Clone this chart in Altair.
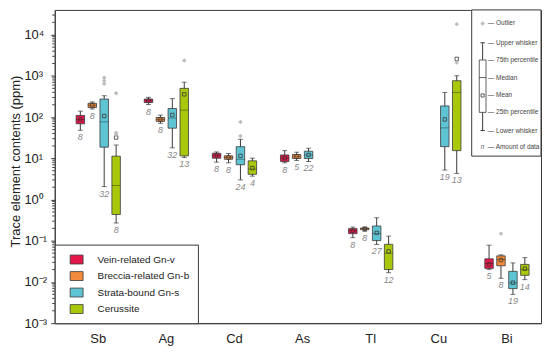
import json
import altair as alt
import pandas as pd

# ---------------- data ----------------
ELEMENTS = ["Sb", "Ag", "Cd", "As", "Tl", "Cu", "Bi"]
SERIES = ["Vein-related Gn-v", "Breccia-related Gn-b", "Strata-bound Gn-s", "Cerussite"]
COLORS = ["#E5174B", "#F28B3B", "#5EC4D3", "#A9C80C"]

# order of values follows ELEMENTS; None = no data
LOWER = {
    SERIES[0]: [48, 202, 8.1, 7.8, 0.119, None, 0.0202],
    SERIES[1]: [158, 71, 7.8, 8.9, 0.17, None, 0.0123],
    SERIES[2]: [2.06, 18, 3.0, 8.4, 0.081, 5.2, 0.005],
    SERIES[3]: [0.27, 10.5, 3.7, None, 0.0168, 4.3, 0.0114],
}
Q1 = {
    SERIES[0]: [69, 226, 10.1, 8.4, 0.149, None, 0.0214],
    SERIES[1]: [171, 79, 9.5, 9.9, 0.186, None, 0.0247],
    SERIES[2]: [18.7, 54, 7.0, 9.9, 0.101, 19.2, 0.0069],
    SERIES[3]: [0.435, 11.5, 4.1, None, 0.02, 15.4, 0.0145],
}
MEDIAN = {
    SERIES[0]: [88, 250, 11.7, 10.2, 0.174, None, 0.028],
    SERIES[1]: [195, 88, 10.5, 11.2, 0.195, None, 0.035],
    SERIES[2]: [77, 95, 9.5, 12.1, 0.15, 55, 0.0095],
    SERIES[3]: [2.2, 148, 5.5, None, 0.05, 398, 0.02],
}
Q3 = {
    SERIES[0]: [110, 275, 13.3, 12.1, 0.197, None, 0.0365],
    SERIES[1]: [217, 98, 11.5, 12.4, 0.204, None, 0.043],
    SERIES[2]: [275, 162, 19.2, 14.9, 0.228, 187, 0.0181],
    SERIES[3]: [11.3, 500, 8.7, None, 0.082, 766, 0.0267],
}
UPPER = {
    SERIES[0]: [140, 303, 14.3, 15.4, 0.215, None, 0.078],
    SERIES[1]: [234, 112, 13.1, 14.1, 0.215, None, 0.0455],
    SERIES[2]: [331, 282, 29, 17.6, 0.362, 398, 0.029],
    SERIES[3]: [21, 705, 10.1, None, 0.13, 1010, 0.039],
}
MEAN = {
    SERIES[0]: [88, 250, 11.7, 10.2, 0.174, None, 0.027],
    SERIES[1]: [195, 88, 10.5, 11.2, 0.195, None, 0.034],
    SERIES[2]: [106, 113, 11.5, 12.1, 0.155, 88, 0.0096],
    SERIES[3]: [32, 358, 5.8, None, 0.055, 2590, 0.021],
}
COUNT = {
    SERIES[0]: [8, 8, 8, 8, 8, None, 5],
    SERIES[1]: [8, 8, 8, 5, 8, None, 8],
    SERIES[2]: [32, 32, 24, 22, 27, 19, 19],
    SERIES[3]: [8, 13, 4, None, 12, 13, 14],
}
OUTLIERS = [
    ("Sb", SERIES[2], 900), ("Sb", SERIES[2], 760), ("Sb", SERIES[2], 650),
    ("Sb", SERIES[3], 380), ("Sb", SERIES[3], 42), ("Sb", SERIES[3], 38),
    ("Ag", SERIES[3], 2360),
    ("Cd", SERIES[2], 76), ("Cd", SERIES[2], 35),
    ("Cu", SERIES[3], 18100), ("Cu", SERIES[3], 2110),
    ("Bi", SERIES[1], 0.149),
]

TICK_VALUES = [1e-3, 1e-2, 1e-1, 1, 10, 100, 1e3, 1e4]
TICK_LABELS = ["10⁻³", "10⁻²", "10⁻¹", "10⁰", "10¹", "10²", "10³", "10⁴"]
MINOR_TICKS = [m * 10.0 ** k for k in range(-3, 5) for m in range(2, 10) if m * 10.0 ** k < 4e4]

KEY_LABELS = ["Upper whisker", "75th percentile", "Median", "Mean", "25th percentile", "Lower whisker"]

# ---------------- tables ----------------
rows = []
for s in SERIES:
    for i, e in enumerate(ELEMENTS):
        if Q1[s][i] is None:
            continue
        rows.append(dict(element=e, series=s, lw=LOWER[s][i], q1=Q1[s][i], med=MEDIAN[s][i],
                         q3=Q3[s][i], uw=UPPER[s][i], mean=MEAN[s][i], n=str(COUNT[s][i])))
df = pd.DataFrame(rows)
df_out = pd.DataFrame(OUTLIERS, columns=["element", "series", "value"])
df_minor = pd.DataFrame({"v": MINOR_TICKS})

# ---------------- scales / axes ----------------
FONT = "Liberation Sans"
DARK = "#3a3a3a"
W, H = 489, 315

yscale = alt.Scale(type="log", domain=[1e-3, 4e4], nice=False)
label_expr = json.dumps(TICK_LABELS, ensure_ascii=False) + "[round(log(datum.value)/LN10)+3]"
yaxis = alt.Axis(values=TICK_VALUES, labelExpr=label_expr, tickSize=4, tickColor=DARK,
                 labelAlign="left", labelPadding=27, labelFontSize=13, labelColor="#222",
                 title="Trace element contents (ppm)", titleFontSize=13, titleFontWeight="normal",
                 titleColor="#222", titleX=-32, titleY=152, titleAlign="center",
                 titleBaseline="bottom", titleAngle=270, grid=False, domainColor=DARK)
xscale = alt.Scale(domain=ELEMENTS, paddingInner=0, paddingOuter=0.0693, align=1)
xaxis = alt.Axis(title=None, ticks=False, labelAngle=0, labelFontSize=13, labelColor="#222",
                 labelPadding=9, domainColor=DARK)
xenc = alt.X("element:N", scale=xscale, axis=xaxis)
xoff = alt.XOffset("series:N", scale=alt.Scale(domain=SERIES, paddingInner=0.29, paddingOuter=1.0))

base = alt.Chart(df).encode(x=xenc, xOffset=xoff)

whisker = base.mark_rule(color=DARK, strokeWidth=1).encode(
    y=alt.Y("lw:Q", scale=yscale, axis=yaxis), y2="uw:Q")
cap_top = base.mark_tick(size=5, thickness=1, color=DARK).encode(
    y=alt.Y("uw:Q", scale=yscale, axis=yaxis))
cap_bot = base.mark_tick(size=5, thickness=1, color=DARK).encode(
    y=alt.Y("lw:Q", scale=yscale, axis=yaxis))
box = base.mark_bar(stroke=DARK, strokeWidth=0.8).encode(
    y=alt.Y("q1:Q", scale=yscale, axis=yaxis), y2="q3:Q",
    color=alt.Color("series:N", scale=alt.Scale(domain=SERIES, range=COLORS),
                    legend=alt.Legend(title=None, orient="bottom-left", offset=0,
                                      symbolType="M-1,-0.69L1,-0.69L1,0.69L-1,0.69Z",
                                      symbolSize=169, symbolStrokeColor=DARK, symbolStrokeWidth=0.8,
                                      symbolOffset=7, labelOffset=14, labelFontSize=10,
                                      labelColor="#222", padding=8, rowPadding=2.6,
                                      strokeColor=DARK, fillColor="white")))
median = base.mark_tick(size=8.5, thickness=1, color="black", opacity=0.35).encode(
    y=alt.Y("med:Q", scale=yscale, axis=yaxis))
mean = base.mark_point(shape="square", size=12, filled=False, color=DARK, strokeWidth=0.8,
                       opacity=1).encode(y=alt.Y("mean:Q", scale=yscale, axis=yaxis))
ntext = base.mark_text(fontSize=9, fontStyle="italic", color="#888", baseline="top", dy=3).encode(
    y=alt.Y("lw:Q", scale=yscale, axis=yaxis), text="n:N")
outl = alt.Chart(df_out).mark_point(shape="diamond", filled=True, color="#BBBBBB", size=20,
                                     opacity=1).encode(
    x=xenc, xOffset=xoff, y=alt.Y("value:Q", scale=yscale, axis=yaxis))
minor = alt.Chart(df_minor).mark_rule(color=DARK, strokeWidth=1).encode(
    y=alt.Y("v:Q", scale=yscale, axis=yaxis), x=alt.value(-2.5), x2=alt.value(0))

# ---------------- key (schematic legend, top right) ----------------
ONE = alt.Data(values=[{"k": 0}])
KX0, KY1 = 419.3, 147           # key frame
CX = 430.3                       # schematic centre
KEY_Y = [33, 50.3, 68, 86, 103, 121.3]
TX = 435.5
key_layers = [
    alt.Chart(ONE).mark_rect(fill="white", stroke=DARK, strokeWidth=1).encode(
        x=alt.value(KX0), x2=alt.value(W), y=alt.value(0), y2=alt.value(KY1)),
    alt.Chart(ONE).mark_point(shape="diamond", filled=True, color="#BBBBBB", size=20, opacity=1).encode(
        x=alt.value(CX), y=alt.value(13.6)),
    alt.Chart(ONE).mark_text(text="— Outlier", align="left", baseline="middle", fontSize=6.5,
                             color="#444", font=FONT).encode(x=alt.value(TX), y=alt.value(13.6)),
    alt.Chart(ONE).mark_rule(color=DARK, strokeWidth=1).encode(
        x=alt.value(CX), y=alt.value(KEY_Y[0]), y2=alt.value(KEY_Y[5])),
    alt.Chart(ONE).mark_rule(color=DARK, strokeWidth=1).encode(
        x=alt.value(CX - 2.2), x2=alt.value(CX + 2.2), y=alt.value(KEY_Y[0])),
    alt.Chart(ONE).mark_rule(color=DARK, strokeWidth=1).encode(
        x=alt.value(CX - 2.2), x2=alt.value(CX + 2.2), y=alt.value(KEY_Y[5])),
    alt.Chart(ONE).mark_rect(fill="white", stroke=DARK, strokeWidth=0.8).encode(
        x=alt.value(CX - 3.4), x2=alt.value(CX + 3.4), y=alt.value(KEY_Y[1]), y2=alt.value(KEY_Y[4])),
    alt.Chart(ONE).mark_rule(color=DARK, strokeWidth=0.8).encode(
        x=alt.value(CX - 3.4), x2=alt.value(CX + 3.4), y=alt.value(KEY_Y[2])),
    alt.Chart(ONE).mark_point(shape="square", size=10, filled=False, color=DARK, strokeWidth=0.8,
                              opacity=1).encode(x=alt.value(CX), y=alt.value(KEY_Y[3])),
    alt.Chart(ONE).mark_text(text="n", align="center", baseline="middle", fontSize=6.5,
                             fontStyle="italic", color="#666", font=FONT).encode(
        x=alt.value(CX), y=alt.value(138)),
    alt.Chart(ONE).mark_text(text="— Amount of data", align="left", baseline="middle", fontSize=6.5,
                             color="#444", font=FONT).encode(x=alt.value(TX), y=alt.value(138)),
]
for lab, yy in zip(KEY_LABELS, KEY_Y):
    key_layers.append(
        alt.Chart(ONE).mark_text(text="— " + lab, align="left", baseline="middle", fontSize=6.5,
                                 color="#444", font=FONT).encode(x=alt.value(TX), y=alt.value(yy)))

chart = alt.layer(minor, whisker, cap_top, cap_bot, box, median, mean, outl, ntext, *key_layers).properties(
    width=W, height=H,
    padding={"left": 47, "top": 1, "right": 1, "bottom": 22},
    autosize=alt.AutoSizeParams(type="none"),
).configure(font=FONT).configure_view(stroke=DARK, strokeWidth=1)

chart.save("out.html", embed_options={"renderer": "svg", "actions": False})
